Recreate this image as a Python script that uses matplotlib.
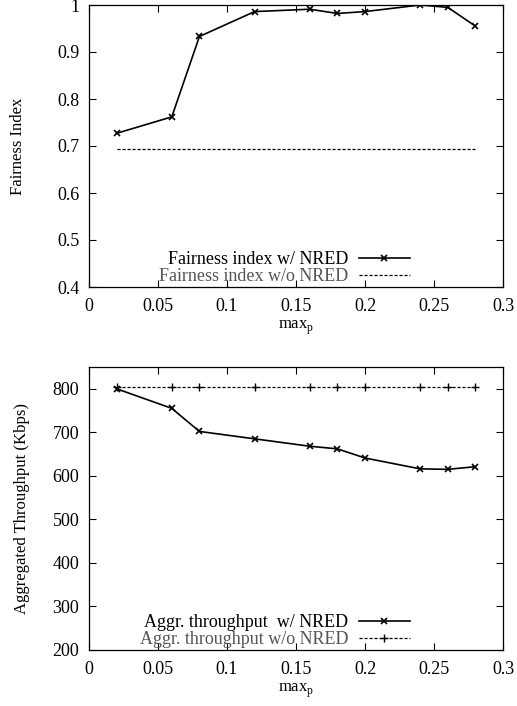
import matplotlib.pyplot as plt

plt.rcParams['font.family'] = ['Liberation Serif', 'DejaVu Serif']
plt.rcParams['font.size'] = 13

# data
max_p = [0.02, 0.06, 0.08, 0.12, 0.16, 0.18, 0.20, 0.24, 0.26, 0.28]
fairness_nred = [0.727, 0.762, 0.933, 0.986, 0.991, 0.982, 0.986, 1.0, 0.995, 0.955]
fairness_plain = [0.693] * len(max_p)
thru_nred = [800, 755, 702, 685, 668, 662, 641, 616, 615, 621]
thru_plain = [805] * len(max_p)

fig = plt.figure(figsize=(5.17, 7.06), dpi=100)
W, H = 517, 706
ax1 = fig.add_axes([89 / W, 1 - 287 / H, 414 / W, 282 / H])
ax2 = fig.add_axes([89 / W, 1 - 650 / H, 414 / W, 283 / H])

ax1.plot(max_p, fairness_nred, color='black', lw=1.2, marker='x', ms=5,
         mew=1.2, label='Fairness index w/ NRED')
ax1.plot(max_p, fairness_plain, color='black', lw=0.9, ls=(0, (2.5, 1.5)),
         label='Fairness index w/o NRED')
ax1.set_ylim(0.4, 1.0)
ax1.set_yticks([0.4, 0.5, 0.6, 0.7, 0.8, 0.9, 1.0])
ax1.set_yticklabels(['0.4', '0.5', '0.6', '0.7', '0.8', '0.9', '1'])
ax1.set_ylabel('Fairness Index', fontsize=12, labelpad=22)

ax2.plot(max_p, thru_nred, color='black', lw=1.2, marker='x', ms=5,
         mew=1.2, label='Aggr. throughput  w/ NRED')
ax2.plot(max_p, thru_plain, color='black', lw=0.9, ls=(0, (2.5, 1.5)),
         marker='+', ms=6, mew=1.0, label='Aggr. throughput w/o NRED')
ax2.set_ylim(200, 850)
ax2.set_yticks([200, 300, 400, 500, 600, 700, 800])
ax2.set_ylabel('Aggregated Throughput (Kbps)', fontsize=12, labelpad=16)

for ax in (ax1, ax2):
    ax.set_xlim(0, 0.3)
    ax.set_xticks([0, 0.05, 0.1, 0.15, 0.2, 0.25, 0.3])
    ax.set_xticklabels(['0', '0.05', '0.1', '0.15', '0.2', '0.25', '0.3'])
    ax.set_xlabel('max$_\\mathregular{p}$', fontsize=12, labelpad=3)
    ax.tick_params(direction='in', top=True, right=True, length=5, width=0.8)
    ax.tick_params(axis='x', pad=8)
    ax.tick_params(axis='y', pad=7)
    for s in ax.spines.values():
        s.set_linewidth(0.9)
    leg = ax.legend(loc='lower right', bbox_to_anchor=(0.805, -0.038),
                    frameon=False, markerfirst=False, fontsize=13,
                    handlelength=2.8, handletextpad=0.6, labelspacing=0.0,
                    borderaxespad=0.3)
    leg.get_texts()[1].set_color('#555555')

fig.savefig('out.png', dpi=100)
